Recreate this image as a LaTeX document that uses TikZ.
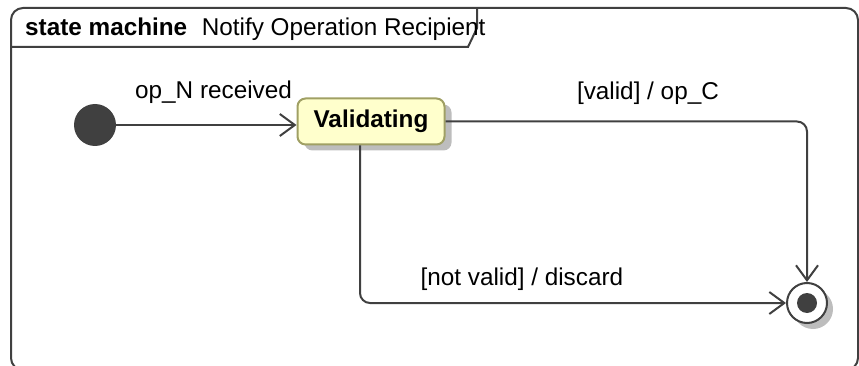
\documentclass[tikz,border=0pt]{standalone}
\usepackage{fontspec}
\setmainfont{Liberation Sans}
\usepackage{xcolor}
\usepackage{tikz}
\usetikzlibrary{arrows.meta, positioning, shadows}

\definecolor{linegray}{HTML}{404040}
\definecolor{statefill}{HTML}{FFFFCC}
\definecolor{stateborder}{HTML}{A0A064}
\definecolor{shadowgray}{HTML}{BDBDBD}

\begin{document}
\begin{tikzpicture}[x=1pt, y=1pt, node distance=276pt, auto, >={Straight Barb[length=15pt,width=22pt]}, font=\fontsize{24.3}{29}\selectfont]
\tikzset{
  frame/.style = {draw=linegray, line width=2pt},
  initial/.style = {circle, fill=linegray, minimum size=42pt, inner sep=0pt},
  state/.style = {rectangle, draw=stateborder, line width=2pt, fill=statefill, rounded corners=8pt, minimum width=147pt, minimum height=46pt, font=\fontsize{24.3}{29}\selectfont\bfseries, drop shadow={shadow xshift=7pt, shadow yshift=-6pt, fill=shadowgray, opacity=1}},
  final/.style = {circle, draw=linegray, line width=2pt, fill=white, minimum size=40pt, inner sep=0pt, drop shadow={shadow xshift=6pt, shadow yshift=-6pt, fill=shadowgray, opacity=1}, path picture={\fill [linegray] (path picture bounding box.center) circle (10pt);}},
  line/.style = {draw=linegray, line width=2pt, ->, rounded corners=10pt}
}
\useasboundingbox (0,0) rectangle (859,-366);
% frame and name tab
\draw [frame, rounded corners=12pt] (11,-8) rectangle (858,-370);
\draw [frame] (11,-47) -- (468,-47) -- (477,-28) -- (477,-8);
\node [anchor=base west, inner sep=0pt] (title) at (25,-36) {\textbf{state machine}\hspace{0.6em}Notify Operation Recipient};
% states
\node [initial] (start) at (95,-125) {};
\node [state, right of=start, yshift=3.5pt] (validating) {Validating};
\node [final] (end) at (807,-303) {};
% transitions
\path [line] (start) -- node [pos=0.54, above=17pt] {op\_N received} (start -| validating.west);
\path [line] (validating.east) -| node [pos=0.28, above=13pt] {[valid] / op\_C} (end);
\path [line] ([xshift=-11pt]validating.south) |- node [pos=0.69, above=8pt] {[not valid] / discard} (end);
\end{tikzpicture}
\end{document}
